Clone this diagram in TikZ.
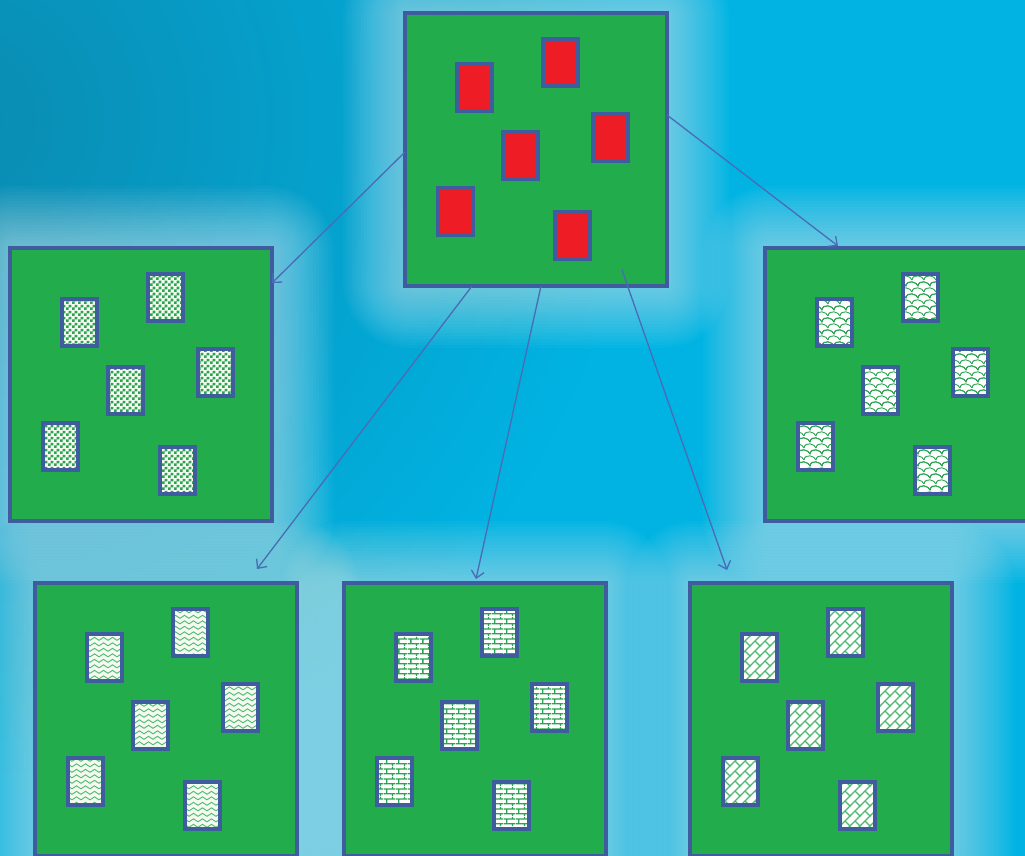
\documentclass[tikz,border=0pt]{standalone}
\usetikzlibrary{calc,arrows.meta,patterns}
\definecolor{bgc}{HTML}{00B3E3}
\definecolor{darkbg}{HTML}{0A8BB1}
\definecolor{boxg}{HTML}{22AC4C}
\definecolor{bord}{HTML}{3E5C9E}
\definecolor{redc}{HTML}{EE1C25}
\definecolor{arrc}{HTML}{4A6BB5}
\definecolor{patg}{HTML}{2AA450}
\definecolor{patl}{HTML}{4DB86F}
\definecolor{paper}{HTML}{F4FAF0}

% checkerboard 3pt cells
\pgfdeclarepatternformonly{gchk}{\pgfpointorigin}{\pgfqpoint{6pt}{6pt}}{\pgfqpoint{6pt}{6pt}}{%
  \pgfpathrectangle{\pgfpointorigin}{\pgfqpoint{3pt}{3pt}}%
  \pgfpathrectangle{\pgfqpoint{3pt}{3pt}}{\pgfqpoint{3pt}{3pt}}%
  \pgfusepath{fill}}
% waves
\pgfdeclarepatternformonly{gwave}{\pgfqpoint{-1pt}{-1pt}}{\pgfqpoint{10pt}{7pt}}{\pgfqpoint{9pt}{5.5pt}}{%
  \pgfsetlinewidth{0.9pt}%
  \pgfpathmoveto{\pgfqpoint{0pt}{1.2pt}}%
  \pgfpathcurveto{\pgfqpoint{1.8pt}{1.2pt}}{\pgfqpoint{2.7pt}{4.2pt}}{\pgfqpoint{4.5pt}{4.2pt}}%
  \pgfpathcurveto{\pgfqpoint{6.3pt}{4.2pt}}{\pgfqpoint{7.2pt}{1.2pt}}{\pgfqpoint{9pt}{1.2pt}}%
  \pgfusepath{stroke}}
% bricks
\pgfdeclarepatternformonly{gbrick}{\pgfpointorigin}{\pgfqpoint{12pt}{10pt}}{\pgfqpoint{12pt}{10pt}}{%
  \pgfsetlinewidth{1.4pt}%
  \pgfpathmoveto{\pgfqpoint{0pt}{2.5pt}}\pgfpathlineto{\pgfqpoint{12pt}{2.5pt}}%
  \pgfpathmoveto{\pgfqpoint{0pt}{7.5pt}}\pgfpathlineto{\pgfqpoint{12pt}{7.5pt}}%
  \pgfpathmoveto{\pgfqpoint{3pt}{2.5pt}}\pgfpathlineto{\pgfqpoint{3pt}{7.5pt}}%
  \pgfpathmoveto{\pgfqpoint{9pt}{7.5pt}}\pgfpathlineto{\pgfqpoint{9pt}{10pt}}%
  \pgfpathmoveto{\pgfqpoint{9pt}{0pt}}\pgfpathlineto{\pgfqpoint{9pt}{2.5pt}}%
  \pgfusepath{stroke}}
% diagonal bricks (45 degrees, brick 14 x 7)
\pgfdeclarepatternformonly{gdbrick}{\pgfqpoint{-1pt}{-1pt}}{\pgfqpoint{11pt}{11pt}}{\pgfqpoint{10pt}{10pt}}{%
  \pgfsetlinewidth{1.1pt}%
  \pgfpathmoveto{\pgfqpoint{-1pt}{-1pt}}\pgfpathlineto{\pgfqpoint{11pt}{11pt}}%
  \pgfpathmoveto{\pgfqpoint{5pt}{5pt}}\pgfpathlineto{\pgfqpoint{10pt}{0pt}}%
  \pgfusepath{stroke}}
% scales
\pgfdeclarepatternformonly{gscale}{\pgfqpoint{-7pt}{-7pt}}{\pgfqpoint{19pt}{19pt}}{\pgfqpoint{12pt}{12pt}}{%
  \pgfsetlinewidth{0.9pt}%
  \pgfpathmoveto{\pgfqpoint{0pt}{0pt}}%
  \pgfpathcurveto{\pgfqpoint{1pt}{7pt}}{\pgfqpoint{11pt}{4pt}}{\pgfqpoint{12pt}{0pt}}%
  \pgfpathmoveto{\pgfqpoint{-6pt}{6pt}}%
  \pgfpathcurveto{\pgfqpoint{-5pt}{13pt}}{\pgfqpoint{5pt}{10pt}}{\pgfqpoint{6pt}{6pt}}%
  \pgfpathcurveto{\pgfqpoint{7pt}{13pt}}{\pgfqpoint{17pt}{10pt}}{\pgfqpoint{18pt}{6pt}}%
  \pgfusepath{stroke}}

\begin{document}
\begin{tikzpicture}[x=1pt,y=-1pt,
  box/.style={draw=bord, line width=3.5pt, fill=boxg, minimum width=262pt, minimum height=273pt, anchor=north west, inner sep=0pt, outer sep=0pt},
  card/.style={draw=bord, line width=4pt, minimum width=35pt, minimum height=47pt, inner sep=0pt, outer sep=0pt},
  redcard/.style={card, fill=redc},
  chk/.style={card, preaction={fill=paper}, pattern=gchk, pattern color=patg},
  scl/.style={card, preaction={fill=white}, pattern=gscale, pattern color=patg},
  wav/.style={card, preaction={fill=paper}, pattern=gwave, pattern color=patl},
  brk/.style={card, preaction={fill=white}, pattern=gbrick, pattern color=patg},
  dbrk/.style={card, preaction={fill=white}, pattern=gdbrick, pattern color=patl},
  conn/.style={draw=arrc, line width=1.3pt, -{Straight Barb[length=7pt,width=13pt,line width=1.3pt]}}
]
\useasboundingbox (0,0) rectangle (1025,856);
% background
\fill[bgc] (0,0) rectangle (1025,856);
\shade[inner color=darkbg, outer color=bgc] (-40,120) circle (680);
\foreach \x/\y/\w/\h in {405/13/262/273, 10/248/262/273, 765/248/262/273, 35/583/262/273, 344/583/262/273, 690/583/262/273}{
  \foreach \e in {62,59,...,2}{
    \fill[white, fill opacity=0.028, rounded corners={\e pt+4pt}] (\x-\e,\y-\e) rectangle (\x+\w+\e,\y+\h+\e);
  }
}
% boxes
\foreach \n/\x/\y/\s in {top/405/13/redcard, lm/10/248/chk, rm/765/248/scl, bl/35/583/wav, bc/344/583/brk, br/690/583/dbrk}{
  \node[box] (\n) at (\x,\y) {};
  \foreach \i/\ox/\oy in {1/69.5/74.5, 2/155.5/49.5, 3/115.5/142.5, 4/205.5/124.5, 5/50.5/198.5, 6/167.5/222.5}{
    \node[\s] (\n-r\i) at (\x+\ox,\y+\oy) {};
  }
}
% connectors
\draw[conn] ($(top.north west)+(0,139)$) -- ($(lm.north east)+(0,35)$);
\draw[conn] ($(top.south west)+(67,0)$) -- ($(bl.north west)+(222,-14)$);
\draw[conn] ($(top.south west)+(136,0)$) -- ($(bc.north west)+(132,-4)$);
\draw[conn] ($(top.south west)+(217,-16)$) -- ($(br.north west)+(37,-13)$);
\draw[conn] ($(top.north east)+(0,102)$) -- ($(rm.north west)+(73,-2)$);
\end{tikzpicture}
\end{document}
